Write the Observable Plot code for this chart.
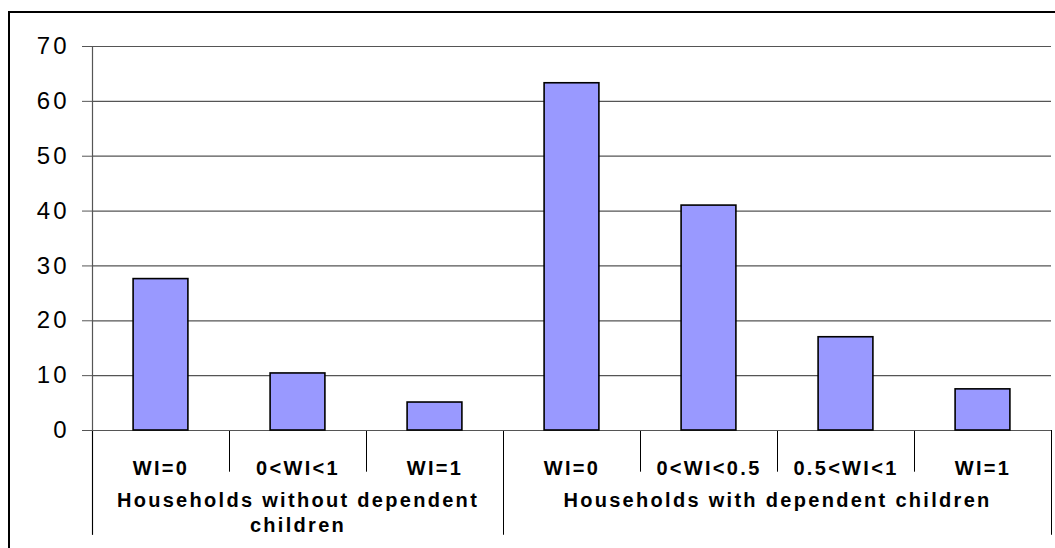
<!DOCTYPE html>
<html><head><meta charset="utf-8">
<script src="https://cdn.jsdelivr.net/npm/d3@7"></script>
<script src="https://cdn.jsdelivr.net/npm/@observablehq/plot@0.6"></script>
<style>
html,body{margin:0;padding:0;background:#fff;overflow:hidden;}
#wrap{position:relative;width:1055px;height:548px;}
#border{position:absolute;left:8px;top:11px;width:1100px;height:600px;border-left:2px solid #000;border-top:2px solid #000;pointer-events:none;}
#wrap svg{position:absolute;left:0;top:0;}
#wrap svg text{letter-spacing:2.3px;}
#wrap svg g[aria-label="y-axis tick label"] text{letter-spacing:3px;}
</style></head><body>
<div id="wrap"><div id="border"></div></div>
<script>
const groupNames = ["Households without dependent\nchildren", "Households with dependent children"];
const groupOfCategory = [0, 0, 0, 1, 1, 1, 1];
const categories = ["WI=0", "0<WI<1", "WI=1", "WI=0", "0<WI<0.5", "0.5<WI<1", "WI=1"];
const values = [27.6, 10.4, 5.1, 63.3, 41.0, 17.0, 7.5];
const yTicks = [0, 10, 20, 30, 40, 50, 60, 70];

const data = categories.map((c, i) => ({i, cat: c, v: values[i]}));
const n = categories.length;
const groups = groupNames.map((name, g) => {
  const idx = groupOfCategory.map((x, i) => x === g ? i : -1).filter(i => i >= 0);
  return {name, start: idx[0], end: idx[idx.length - 1] + 1};
});
const innerDividers = d3.range(1, n).filter(i => groupOfCategory[i] === groupOfCategory[i - 1]);
const groupDividers = [0, ...groups.map(g => g.end)];

const lineColor = "#555";
const chart = Plot.plot({
  width: 1055,
  height: 548,
  marginLeft: 92,
  marginRight: 4,
  marginTop: 46,
  marginBottom: 118,
  style: {fontFamily: "'Liberation Sans', Arial, sans-serif", background: "transparent", overflow: "visible"},
  x: {domain: [0, n], axis: null},
  y: {domain: [0, 70]},
  marks: [
    Plot.gridY(yTicks, {stroke: lineColor, strokeOpacity: 1, strokeWidth: 1.2}),
    Plot.axisY(yTicks, {tickSize: 10, tickPadding: 13, fontSize: 24, stroke: lineColor, fill: "#000", label: null}),
    Plot.ruleX([0], {y1: -19.1, y2: 70, stroke: lineColor, strokeWidth: 1.2}),
    Plot.ruleX(innerDividers, {y1: -7.6, y2: 0, stroke: "#000", strokeWidth: 1}),
    Plot.ruleX(groupDividers, {y1: -19.1, y2: 0, stroke: "#000", strokeWidth: 1}),
    Plot.ruleY([0], {stroke: lineColor, strokeWidth: 1.2}),
    Plot.rectY(data, {x1: d => d.i + 0.3, x2: d => d.i + 0.7, y: "v", fill: "#9999FF", stroke: "#000", strokeWidth: 1.6}),
    Plot.text(data, {x: d => d.i + 0.5, y: 0, text: "cat", dy: 44, lineAnchor: "bottom", fontWeight: "bold", fontSize: 20, fill: "#000"}),
    Plot.text(groups, {x: d => (d.start + d.end) / 2, y: 0, text: "name", dy: 59, lineAnchor: "top", lineHeight: 1.25, fontWeight: "bold", fontSize: 20, fill: "#000"})
  ]
});
document.getElementById("wrap").prepend(chart);
</script>
</body></html>
